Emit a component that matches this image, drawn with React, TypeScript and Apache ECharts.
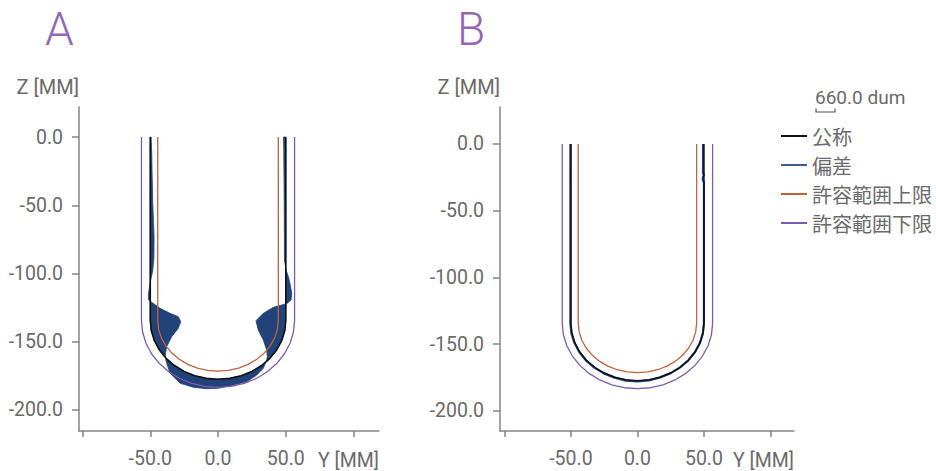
import React, { useEffect, useRef } from 'react';
import * as echarts from 'echarts';

// Nominal profile (Y, Z) in mm, from top-left, round the bottom, to top-right
const NOMINAL: number[][] = [
  [-50, 0], [-50, -134.5], [-49.24, -141.97], [-46.98, -149.21], [-43.3, -156.0], [-38.3, -162.14],
  [-32.14, -167.44], [-25.0, -171.74], [-17.1, -174.91], [-8.68, -176.85], [0, -177.5],
  [8.68, -176.85], [17.1, -174.91], [25.0, -171.74], [32.14, -167.44], [38.3, -162.14],
  [43.3, -156.0], [46.98, -149.21], [49.24, -141.97], [50, -134.5], [50, 0],
];

// Upper tolerance (inner)
const UPPER: number[][] = [
  [-44.5, 0], [-44.5, -134.5], [-43.82, -140.92], [-41.82, -147.15], [-38.54, -153.0], [-34.09, -158.28],
  [-28.6, -162.84], [-22.25, -166.54], [-15.22, -169.27], [-7.73, -170.94], [0, -171.5],
  [7.73, -170.94], [15.22, -169.27], [22.25, -166.54], [28.6, -162.84], [34.09, -158.28],
  [38.54, -153.0], [41.82, -147.15], [43.82, -140.92], [44.5, -134.5], [44.5, 0],
];

// Lower tolerance (outer)
const LOWER: number[][] = [
  [-56.5, 0], [-56.5, -134.5], [-55.64, -143.01], [-53.09, -151.26], [-48.93, -159.0], [-43.28, -166.0],
  [-36.32, -172.03], [-28.25, -176.93], [-19.32, -180.55], [-9.81, -182.76], [0, -183.5],
  [9.81, -182.76], [19.32, -180.55], [28.25, -176.93], [36.32, -172.03], [43.28, -166.0],
  [48.93, -159.0], [53.09, -151.26], [55.64, -143.01], [56.5, -134.5], [56.5, 0],
];

// Panel A: magnified deviation profile
const DEV_A: number[][] = [
  [-49.4, 0], [-48.9, -12], [-48.7, -24], [-48.2, -48], [-47.6, -62], [-47.2, -73], [-47.3, -88],
  [-48.2, -98], [-50.2, -107], [-51.4, -115.5], [-51.3, -119.4],
  [-42.8, -125.5], [-35.4, -129.2], [-29.3, -131.6], [-27.5, -135.3], [-29.3, -140.1], [-34.2, -146.3],
  [-37.9, -153.6], [-39.1, -161.0], [-37.9, -165.8], [-35.4, -173.1], [-28.0, -180.4], [-18.2, -183.4],
  [-8.3, -184.4], [0.2, -184.1], [11.3, -181.7], [21.2, -179.3], [28.6, -174.4], [33.4, -169.5],
  [35.9, -163.4], [36.4, -160.9], [35.9, -156.0], [33.4, -148.7], [29.7, -141.4], [28.0, -134.6],
  [33.4, -129.2], [40.8, -124.8], [50.7, -122.1], [53.9, -119.4], [54.4, -114.5], [53.1, -107.2],
  [51.9, -102.3], [50.2, -97.4], [49.0, -90], [48.9, -60], [48.7, -30], [48.5, -10], [48.3, 0],
];

// Panel B: deviation profile
const DEV_B: number[][] = [
  [-50.4, 0], [-50.4, -134.5], [-49.6, -142.0], [-47.3, -149.3], [-43.6, -156.2], [-38.6, -162.4],
  [-32.4, -167.7], [-25.2, -172.0], [-17.2, -175.2], [-8.7, -177.4], [0, -178.1], [8.7, -177.3],
  [17.1, -175.0], [25.0, -171.8], [32.1, -167.5], [38.3, -162.2], [43.3, -156.0], [47.0, -149.2],
  [49.2, -142.0], [50, -134.5], [50, -28.5], [49.2, -27.5], [49.2, -25], [50, -23], [49.3, -22], [49.3, 0],
];

const X_TICKS = [-100, -50, 0, 50, 100];
const X_LABELS = [-50, 0, 50];
const Y_TICKS = [-200, -150, -100, -50, 0];
const LEGEND_NAMES = ['公称', '偏差', '許容範囲上限', '許容範囲下限'];
const PANEL_TITLES = ['A', 'B'];
const SCALE_LABEL = '660.0 dum';
const X_NAME = 'Y [MM]';
const Y_NAME = 'Z [MM]';

const C_NOM = '#111111';
const C_DEV = '#22427a';
const C_DEV_LEG = '#3a5b92';
const C_UP = '#c0623c';
const C_LO = '#7c5cb0';
const C_AXIS = '#858585';
const C_TEXT = '#6a6a6a';
const C_TITLE = '#9468b6';
const FONT = 'Roboto, "Liberation Sans", sans-serif';
const CJK = '"Noto Sans CJK JP", "Noto Sans CJK SC", sans-serif';

export default function App() {
  const ref = useRef<HTMLDivElement>(null);
  useEffect(() => {
    const chart = echarts.init(ref.current!, null, { renderer: 'svg' });
    const fmt = (v: number) => Number(v).toFixed(1);
    const xAxis = (gi: number, min: number, max: number) => ({
      type: 'value', gridIndex: gi, min, max,
      name: X_NAME, nameLocation: 'end', nameGap: 0,
      nameTextStyle: { align: 'right', verticalAlign: 'top', padding: [19, 0, 0, 0], color: C_TEXT, fontSize: 19.5, fontFamily: FONT },
      axisLine: { show: true, onZero: false, lineStyle: { color: C_AXIS, width: 1.5 } },
      axisTick: { show: true, length: 6, customValues: X_TICKS, lineStyle: { color: C_AXIS, width: 1.5 } },
      axisLabel: { customValues: X_LABELS, formatter: fmt, margin: 17, color: C_TEXT, fontSize: 19.5, fontFamily: FONT },
      splitLine: { show: false },
    });
    const yAxis = (gi: number, min: number, max: number) => ({
      type: 'value', gridIndex: gi, min, max,
      name: Y_NAME, nameLocation: 'end', nameGap: 10,
      nameTextStyle: { align: 'right', color: C_TEXT, fontSize: 20, fontFamily: FONT },
      axisLine: { show: true, onZero: false, lineStyle: { color: C_AXIS, width: 1.5 } },
      axisTick: { show: true, length: 7, customValues: Y_TICKS, lineStyle: { color: C_AXIS, width: 1.5 } },
      axisLabel: { customValues: Y_TICKS, formatter: fmt, margin: 16, color: C_TEXT, fontSize: 19.5, fontFamily: FONT },
      splitLine: { show: false },
    });
    const line = (name: string, data: number[][], gi: number, color: string, width: number, z = 3) => ({
      type: 'line', name, data, xAxisIndex: gi, yAxisIndex: gi, showSymbol: false, symbol: 'none',
      lineStyle: { color, width }, itemStyle: { color }, z, silent: true,
    });
    const polyA = [...NOMINAL, ...DEV_A.slice().reverse()];
    const legendColors = [C_NOM, C_DEV_LEG, C_UP, C_LO];

    chart.setOption({
      animation: false,
      backgroundColor: '#ffffff',
      grid: [
        { left: 79, top: 107, width: 300, height: 324 },
        { left: 500, top: 107, width: 294, height: 324 },
      ],
      xAxis: [xAxis(0, -102.6, 118.8), xAxis(1, -103.3, 117.7)],
      yAxis: [yAxis(0, -215.4, 22.0), yAxis(1, -215.2, 27.7)],
      legend: {
        orient: 'vertical', left: 781, top: 126, padding: 0, itemWidth: 26, itemHeight: 2, itemGap: 9,
        textStyle: { color: C_TEXT, fontSize: 20, lineHeight: 20, fontFamily: CJK },
        selectedMode: false,
        data: LEGEND_NAMES.map((n, i) => ({
          name: n, icon: 'rect',
          itemStyle: { color: legendColors[i], borderWidth: 0 },
          lineStyle: { width: 1.5, color: legendColors[i] },
        })),
      },
      graphic: [
        { type: 'text', x: 45, y: 6, style: { text: PANEL_TITLES[0], fill: C_TITLE, fontSize: 46, fontWeight: 300, fontFamily: FONT } },
        { type: 'text', x: 457, y: 6, style: { text: PANEL_TITLES[1], fill: C_TITLE, fontSize: 46, fontWeight: 300, fontFamily: FONT } },
        { type: 'text', x: 815, y: 88, style: { text: SCALE_LABEL, fill: C_TEXT, fontSize: 19, fontFamily: FONT } },
        { type: 'polyline', shape: { points: [[816, 108.5], [816, 112], [835, 112], [835, 108.5]] }, style: { stroke: '#555', lineWidth: 1.2, fill: 'none' } },
      ],
      series: [
        {
          type: 'custom', name: LEGEND_NAMES[1], xAxisIndex: 0, yAxisIndex: 0, data: polyA, z: 2, silent: true,
          itemStyle: { color: C_DEV },
          renderItem: (params: any, api: any) => {
            if (params.dataIndex !== 0) return null;
            const pts = polyA.map((p) => api.coord(p));
            return { type: 'polygon', shape: { points: pts }, style: { fill: C_DEV, stroke: C_DEV, lineWidth: 0.8 } };
          },
        },
        line(LEGEND_NAMES[0], NOMINAL, 0, C_NOM, 1.6, 3),
        line(LEGEND_NAMES[2], UPPER, 0, C_UP, 1.3, 4),
        line(LEGEND_NAMES[3], LOWER, 0, C_LO, 1.3, 4),
        line(LEGEND_NAMES[1], DEV_B, 1, C_DEV, 2.2, 2),
        line(LEGEND_NAMES[0], NOMINAL, 1, C_NOM, 1.5, 3),
        line(LEGEND_NAMES[2], UPPER, 1, C_UP, 1.3, 4),
        line(LEGEND_NAMES[3], LOWER, 1, C_LO, 1.3, 4),
      ],
    });
    return () => chart.dispose();
  }, []);
  return <div ref={ref} style={{ position: 'absolute', left: 0, top: 0, width: 936, height: 471 }} />;
}
